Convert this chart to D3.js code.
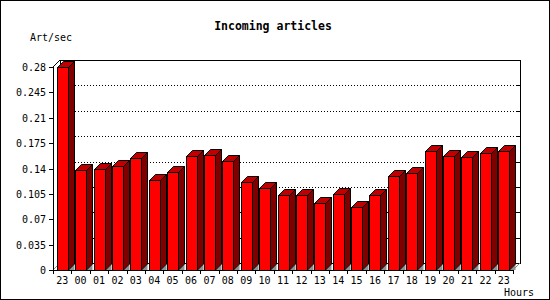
<!DOCTYPE html>
<html>
<head>
<meta charset="utf-8">
<script src="https://cdn.jsdelivr.net/npm/d3@7"></script>
<style>
  body { margin: 0; background: #fff; }
  svg { display: block; }
  text { font-family: "DejaVu Sans Mono", monospace; font-size: 10px; fill: #000; }
  .title { font-size: 11.5px; font-weight: bold; }
</style>
</head>
<body>
<div id="chart"></div>
<script>
// data
var hours = ["23", "00", "01", "02", "03", "04", "05", "06", "07", "08", "09", "10",
  "11", "12", "13", "14", "15", "16", "17", "18", "19", "20", "21", "22", "23"];
var values = [0.280, 0.1375, 0.139, 0.143, 0.154, 0.1237, 0.1347, 0.1572, 0.1586, 0.1499,
  0.121, 0.1127, 0.103, 0.103, 0.092, 0.1044, 0.0865, 0.103, 0.1292, 0.1334,
  0.1637, 0.1568, 0.1554, 0.1614, 0.1637];
var yTicks = [0, 0.035, 0.07, 0.105, 0.14, 0.175, 0.21, 0.245, 0.28];

(function () {
  // locals
  var W = 550, H = 300,
    plotLeft = 53, plotRight = 513, plotBottom = 270, plotTop = 67,
    depth = 7,      // offset of the back plane
    barDepth = 6,
    barWidth = 11;

  var svg = d3.select("#chart").append("svg")
    .attr("width", W)
    .attr("height", H);

  svg.append("rect").attr("width", W).attr("height", H).attr("fill", "#fff");

  // outer frame
  svg.append("rect")
    .attr("x", 0.5).attr("y", 0.5)
    .attr("width", W - 1.5).attr("height", H - 1.5)
    .attr("fill", "none").attr("stroke", "#000")
    .attr("shape-rendering", "crispEdges");
  svg.append("path")
    .attr("d", "M" + (W - 0.5) + ",0V" + H + "M0," + (H - 0.5) + "H" + W)
    .attr("stroke", "#000").attr("shape-rendering", "crispEdges");

  var x = d3.scaleBand()
    .domain(d3.range(hours.length))
    .range([plotLeft, plotRight])
    .padding(0);

  var y = d3.scaleLinear()
    .domain([0, 0.28])
    .range([plotBottom, plotTop]);

  // back plane
  var g = svg.append("g");
  g.append("rect")
    .attr("x", plotLeft + depth + 0.5).attr("y", plotTop - depth + 0.5)
    .attr("width", plotRight - plotLeft).attr("height", plotBottom - plotTop)
    .attr("fill", "#fff").attr("stroke", "#000")
    .attr("shape-rendering", "crispEdges");

  // dotted grid on back plane
  g.selectAll(".grid").data(yTicks.slice(1, -1)).enter()
    .append("line")
    .attr("class", "grid")
    .attr("x1", plotLeft + depth).attr("x2", plotRight + depth)
    .attr("y1", function(d) { return Math.round(y(d)) - depth + 0.5; })
    .attr("y2", function(d) { return Math.round(y(d)) - depth + 0.5; })
    .attr("stroke", "#000").attr("stroke-dasharray", "1,2")
    .attr("shape-rendering", "crispEdges");

  // inward ticks on right edge of back plane
  g.selectAll(".rtick").data(yTicks.slice(1, -1)).enter()
    .append("line")
    .attr("class", "rtick")
    .attr("x1", plotRight + depth - 3).attr("x2", plotRight + depth + 0.5)
    .attr("y1", function(d) { return Math.round(y(d)) - depth + 0.5; })
    .attr("y2", function(d) { return Math.round(y(d)) - depth + 0.5; })
    .attr("stroke", "#000")
    .attr("shape-rendering", "crispEdges");

  // floor edges
  g.append("path")
    .attr("d", "M" + plotLeft + "," + plotBottom + "L" + (plotLeft + depth) + "," + (plotBottom - depth) +
      "M" + plotRight + "," + plotBottom + "L" + (plotRight + depth) + "," + (plotBottom - depth))
    .attr("stroke", "#888").attr("fill", "none");
  g.append("path")
    .attr("d", "M" + plotLeft + "," + plotTop + "L" + (plotLeft + depth) + "," + (plotTop - depth))
    .attr("stroke", "#000").attr("fill", "none");

  // bars
  var bars = svg.selectAll(".bar").data(values).enter()
    .append("g").attr("class", "bar");

  function bx(i) { return Math.round(x(i) + 3.7) + 0.5; }
  function by(d) { return Math.round(y(d)) + 0.5; }

  bars.append("path") // shadow on floor
    .attr("d", function(d, i) {
      var xr = bx(i) + barWidth, yb = plotBottom;
      return "M" + xr + "," + yb + "L" + (xr + barDepth) + "," + (yb - barDepth) + "L" + (xr + barDepth) + "," + yb + "Z";
    })
    .attr("fill", "#909090");

  bars.append("path") // side
    .attr("d", function(d, i) {
      var xr = bx(i) + barWidth, yt = by(d), yb = plotBottom;
      return "M" + xr + "," + yb + "L" + (xr + barDepth) + "," + (yb - barDepth) +
        "L" + (xr + barDepth) + "," + (yt - barDepth) + "L" + xr + "," + yt + "Z";
    })
    .attr("fill", "#800000").attr("stroke", "#000");

  bars.append("path") // top
    .attr("d", function(d, i) {
      var xl = bx(i), xr = xl + barWidth, yt = by(d);
      return "M" + xl + "," + yt + "L" + (xl + barDepth) + "," + (yt - barDepth) +
        "L" + (xr + barDepth) + "," + (yt - barDepth) + "L" + xr + "," + yt + "Z";
    })
    .attr("fill", "#c00000").attr("stroke", "#000");

  bars.append("rect") // front
    .attr("x", function(d, i) { return bx(i); })
    .attr("y", function(d) { return by(d); })
    .attr("width", barWidth)
    .attr("height", function(d) { return plotBottom - Math.round(y(d)); })
    .attr("fill", "#ff0000").attr("stroke", "#000")
    .attr("shape-rendering", "crispEdges");

  // y axis
  var ya = svg.append("g");
  ya.append("line")
    .attr("x1", plotLeft + 0.5).attr("x2", plotLeft + 0.5)
    .attr("y1", plotTop - 1).attr("y2", plotBottom + 1)
    .attr("stroke", "#000").attr("shape-rendering", "crispEdges");
  ya.selectAll(".ytick").data(yTicks).enter()
    .append("line")
    .attr("x1", plotLeft - 4).attr("x2", plotLeft)
    .attr("y1", function(d) { return by(d); })
    .attr("y2", function(d) { return by(d); })
    .attr("stroke", "#000").attr("shape-rendering", "crispEdges");
  ya.selectAll(".ylabel").data(yTicks).enter()
    .append("text")
    .attr("x", 46)
    .attr("y", function(d) { return Math.round(y(d)) + 4; })
    .attr("text-anchor", "end")
    .text(function(d) { return String(+d.toFixed(3)); });

  // x axis
  var xa = svg.append("g");
  xa.append("line")
    .attr("x1", plotLeft).attr("x2", plotRight)
    .attr("y1", plotBottom + 0.5).attr("y2", plotBottom + 0.5)
    .attr("stroke", "#000").attr("shape-rendering", "crispEdges");
  xa.selectAll(".xtick").data(d3.range(hours.length + 1)).enter()
    .append("line")
    .attr("x1", function(i) { return Math.round(plotLeft + i * x.bandwidth()) + 0.5; })
    .attr("x2", function(i) { return Math.round(plotLeft + i * x.bandwidth()) + 0.5; })
    .attr("y1", plotBottom).attr("y2", plotBottom + 4)
    .attr("stroke", "#000").attr("shape-rendering", "crispEdges");
  xa.selectAll(".xlabel").data(hours).enter()
    .append("text")
    .attr("x", function(d, i) { return x(i) + x.bandwidth() / 2; })
    .attr("y", 284)
    .attr("text-anchor", "middle")
    .text(function(d) { return d; });

  // titles
  svg.append("text").attr("class", "title")
    .attr("x", 273).attr("y", 30)
    .attr("text-anchor", "middle")
    .text("Incoming articles");
  svg.append("text").attr("x", 30).attr("y", 41).text("Art/sec");
  svg.append("text").attr("x", 504).attr("y", 296).text("Hours");
}());
</script>
</body>
</html>
